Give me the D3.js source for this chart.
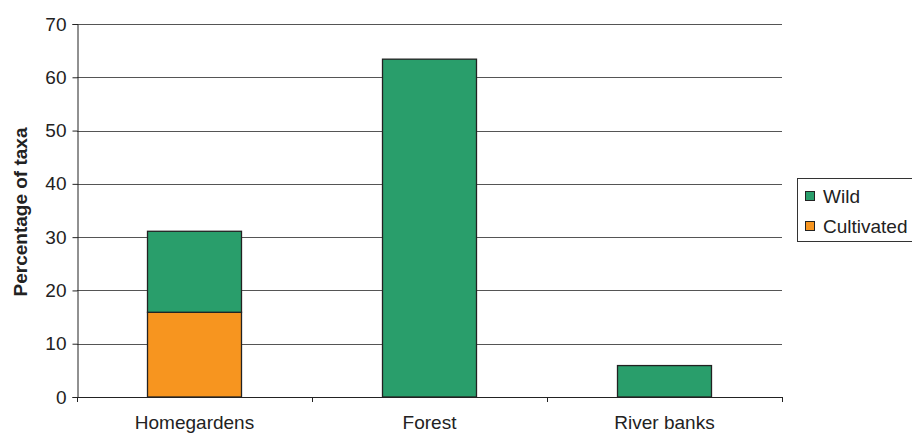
<!DOCTYPE html>
<html><head><meta charset="utf-8">
<script src="https://cdn.jsdelivr.net/npm/d3@7"></script>
<style>body{margin:0;background:#fff}svg{display:block;font-family:"Liberation Sans",Arial,sans-serif}</style>
</head><body>
<svg id="c" width="912" height="433"></svg>
<script>
const categories = ["Homegardens", "Forest", "River banks"];
const cultivated = [15.9, 0, 0];
const wild = [15.2, 63.4, 5.9];
const yTicks = [0, 10, 20, 30, 40, 50, 60, 70];
const seriesNames = ["Wild", "Cultivated"];
const colors = {Wild: "#299e6b", Cultivated: "#f7951f"};

const svg = d3.select("#c");
const x = d3.scaleBand().domain(categories).range([77, 782]).paddingInner(0.6).paddingOuter(0.3);
const y = d3.scaleLinear().domain([0, 70]).range([397, 24]);

// gridlines
svg.append("g").selectAll("line").data(yTicks.filter(d => d > 0)).join("line")
  .attr("x1", 77).attr("x2", 782)
  .attr("y1", d => Math.round(y(d)) + 0.5).attr("y2", d => Math.round(y(d)) + 0.5)
  .attr("stroke", "#555").attr("stroke-width", 1);

// stacked bars
const rows = categories.map((c, i) => ({cat: c, Cultivated: cultivated[i], Wild: wild[i]}));
const stack = d3.stack().keys(["Cultivated", "Wild"])(rows);
stack.forEach(layer => {
  svg.append("g").selectAll("rect").data(layer.filter(d => d[1] - d[0] > 0)).join("rect")
    .attr("x", d => x(d.data.cat))
    .attr("width", x.bandwidth())
    .attr("y", d => y(d[1]))
    .attr("height", d => y(d[0]) - y(d[1]))
    .attr("fill", colors[layer.key])
    .attr("stroke", "#222").attr("stroke-width", 1.3);
});

// y axis
const yAxis = svg.append("g").attr("transform", "translate(77.5,0)")
  .call(d3.axisLeft(y).tickValues(yTicks).tickSize(5).tickPadding(6));
yAxis.select(".domain").attr("stroke", "#222");
yAxis.selectAll(".tick line").attr("stroke", "#222");
yAxis.selectAll("text").attr("font-size", 19).attr("fill", "#222")
  .attr("font-family", "Liberation Sans, Arial, sans-serif");

// x axis
const xAxis = svg.append("g").attr("transform", "translate(0,397.5)")
  .call(d3.axisBottom(x).tickSize(0).tickPadding(18));
xAxis.select(".domain").attr("stroke", "#222").attr("d", "M77,0H782");
xAxis.selectAll("text").attr("font-size", 19).attr("fill", "#222")
  .attr("font-family", "Liberation Sans, Arial, sans-serif");
const boundaries = [77, 77 + x.step(), 77 + 2 * x.step(), 782];
svg.append("g").selectAll("line").data(boundaries).join("line")
  .attr("x1", d => Math.round(d) + 0.5).attr("x2", d => Math.round(d) + 0.5)
  .attr("y1", 397).attr("y2", 402).attr("stroke", "#222");

// y title
svg.append("text").attr("transform", "translate(27,212) rotate(-90)")
  .attr("text-anchor", "middle").attr("font-weight", "bold").attr("font-size", 19)
  .attr("fill", "#222").text("Percentage of taxa");

// legend
const lg = svg.append("g");
lg.append("rect").attr("x", 797.5).attr("y", 178.5).attr("width", 130).attr("height", 63)
  .attr("fill", "none").attr("stroke", "#333");
seriesNames.forEach((s, i) => {
  lg.append("rect").attr("x", 805.5).attr("y", 191.5 + i * 30).attr("width", 9).attr("height", 9)
    .attr("fill", colors[s]).attr("stroke", "#222");
  lg.append("text").attr("x", 823).attr("y", 202.5 + i * 30).attr("font-size", 19)
    .attr("fill", "#222").text(s);
});
</script>
</body></html>
